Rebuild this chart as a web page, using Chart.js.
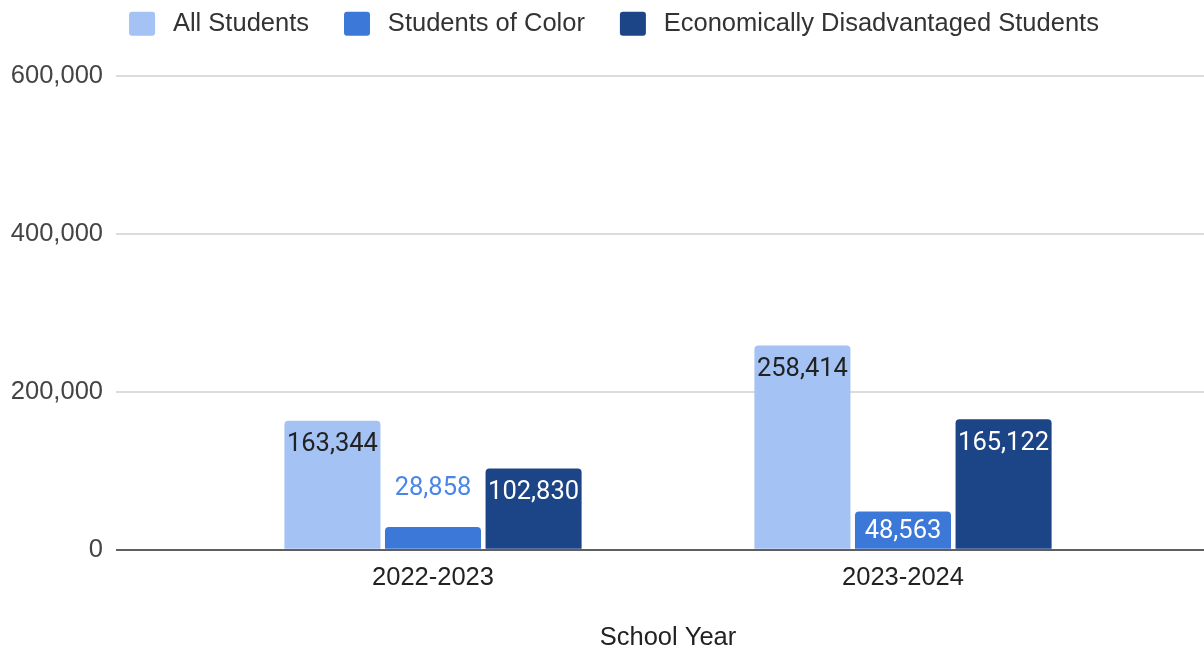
<!DOCTYPE html>
<html>
<head>
<meta charset="utf-8">
<script src="https://cdn.jsdelivr.net/npm/chart.js@4"></script>
<style>
  html, body { margin: 0; padding: 0; background: #fff; }
  #wrap { width: 1204px; height: 652px; position: relative; }
</style>
</head>
<body>
<div id="wrap"><canvas id="enrollChart"></canvas></div>
<script>
// Enrollment counts per school year
const schoolYears = ['2022-2023', '2023-2024'];
const seriesNames = ['All Students', 'Students of Color', 'Economically Disadvantaged Students'];
const allStudents = [163344, 258414];
const studentsOfColor = [28858, 48563];
const econDisadvantaged = [102830, 165122];
const yTickValues = [0, 200000, 400000, 600000];

const barColors = ['#a4c2f4', '#3c78d8', '#1c4587'];
const insideLabelColors = ['#222222', '#ffffff', '#ffffff'];
const outsideLabelColor = '#4a86e8';

const axisFont = { family: '"Liberation Sans", Arial, sans-serif', size: 25.5 };
const fmt = v => Number(v).toLocaleString('en-US');
const gridColor = ctx => (ctx.tick && ctx.tick.value === 0 ? '#5f5f5f' : '#dcdcdc');

// value labels drawn on top of each bar (inside when it fits, above otherwise)
const barValueLabels = {
  id: 'barValueLabels',
  afterDatasetsDraw(chart) {
    const ctx = chart.ctx;
    ctx.save();
    ctx.font = '25.5px Roboto, "Liberation Sans", sans-serif';
    ctx.textAlign = 'center';
    ctx.textBaseline = 'middle';
    chart.data.datasets.forEach((ds, i) => {
      const meta = chart.getDatasetMeta(i);
      meta.data.forEach((bar, j) => {
        const h = bar.base - bar.y;
        let y, color;
        if (h >= 34) {
          y = Math.min(bar.y + 24, (bar.y + bar.base) / 2 + 2);
          color = insideLabelColors[i];
        } else {
          y = bar.y - 38;
          color = outsideLabelColor;
        }
        ctx.fillStyle = color;
        ctx.fillText(fmt(ds.data[j]), bar.x, y);
      });
    });
    ctx.restore();
  }
};

// extra room between the legend and the plot
const legendGap = {
  id: 'legendGap',
  beforeInit(chart) {
    const fit = chart.legend.fit;
    chart.legend.fit = function () {
      fit.call(this);
      this.height += 29;
    };
  }
};

const series = [allStudents, studentsOfColor, econDisadvantaged];

new Chart('enrollChart', {
  type: 'bar',
  data: {
    labels: schoolYears,
    datasets: series.map((values, i) => ({
      label: seriesNames[i],
      data: values,
      backgroundColor: barColors[i],
      borderRadius: 4,
      categoryPercentage: 0.642,
      barPercentage: 0.955
    }))
  },
  options: {
    responsive: true,
    maintainAspectRatio: false,
    animation: false,
    layout: { padding: { top: -24, left: 10, right: -14, bottom: -1 } },
    plugins: {
      tooltip: { enabled: false },
      legend: {
        position: 'top',
        labels: {
          font: axisFont,
          color: '#333333',
          boxWidth: 26,
          boxHeight: 24,
          padding: 35,
          useBorderRadius: true,
          borderRadius: 3,
          generateLabels(chart) {
            const items = Chart.defaults.plugins.legend.labels.generateLabels(chart);
            items.forEach(it => { it.text = '\u2009' + it.text; it.lineWidth = 0; });
            return items;
          }
        }
      }
    },
    scales: {
      x: {
        grid: { display: false, drawTicks: false },
        border: { display: false },
        ticks: { font: axisFont, color: '#222222', padding: 13 },
        title: {
          display: true,
          text: 'School Year',
          font: axisFont,
          color: '#222222',
          padding: { top: 16, bottom: 0 }
        }
      },
      y: {
        min: yTickValues[0],
        max: yTickValues[yTickValues.length - 1],
        afterBuildTicks(scale) { scale.ticks = yTickValues.map(v => ({ value: v })); },
        grid: { color: gridColor, lineWidth: 2, tickLength: 82 },
        border: { display: false },
        ticks: { font: axisFont, color: '#444444', padding: 13, callback: v => fmt(v) },
        afterFit(scale) { scale.width = 188; }
      },
      yRight: {
        position: 'right',
        min: yTickValues[0],
        max: yTickValues[yTickValues.length - 1],
        afterBuildTicks(scale) { scale.ticks = yTickValues.map(v => ({ value: v })); },
        grid: { color: gridColor, lineWidth: 2, tickLength: 80, drawOnChartArea: false },
        border: { display: false },
        ticks: { display: false },
        afterFit(scale) { scale.width = 80; }
      }
    }
  },
  plugins: [barValueLabels, legendGap]
});
</script>
</body>
</html>
